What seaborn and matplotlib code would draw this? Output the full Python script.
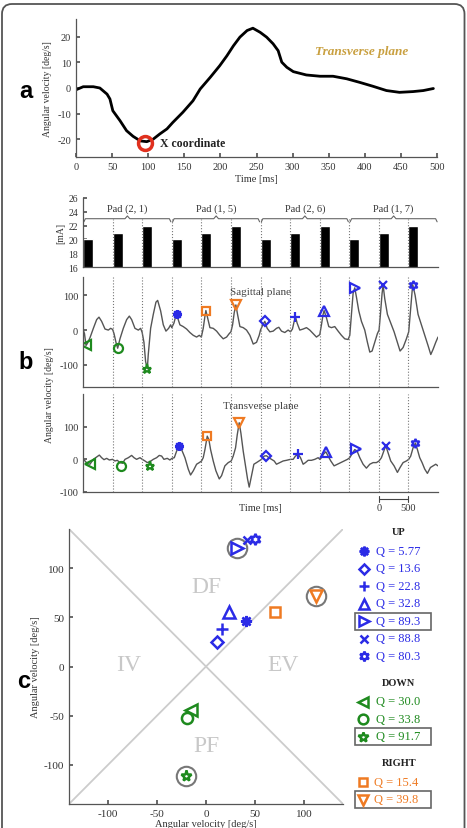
import numpy as np
import matplotlib
matplotlib.use("Agg")
import matplotlib.pyplot as plt
import matplotlib.transforms as mtransforms
from matplotlib.patches import FancyBboxPatch, Rectangle
import seaborn as sns

# ---------------- data ----------------
# panel a: single response, transverse plane
time_a = [0, 10, 24, 33, 43, 47, 51, 61, 70, 79, 89, 98, 107, 116, 126, 134, 148, 162, 172, 186,
          199, 209, 218, 227, 237, 245, 255, 264, 273, 280, 285, 292, 301, 319, 338, 356, 375, 393,
          411, 430, 448, 467, 481, 495]
vel_a = [-0.7, 0.5, 0.5, 0, -2.4, -4.3, -8.9, -12.8, -16.7, -18.9, -20.7, -21, -20, -18, -16, -13.5,
         -9.5, -5, -0.4, 4.2, 8.7, 12.6, 16.5, 19.9, 22.5, 23.4, 21.8, 19.9, 17.3, 14.6, 10.1, 8.1,
         6.4, 5.1, 4.6, 4.6, 3.6, 2.2, 0.7, -1, -1.7, -1.4, -1, -0.2]
xcoord_time = 96
xcoord_vel = -21.4

# panel b: stimulation currents
pads = ["Pad (2, 1)", "Pad (1, 5)", "Pad (2, 6)", "Pad (1, 7)"]
current_mA = [20, 21, 22, 20, 21, 22, 20, 21, 22, 20, 21, 22]
segment_ms = 500

sag_time = [0, 25, 51, 75, 118, 175, 231, 270, 315, 372, 428, 467, 500,
            524, 557, 586, 625, 681, 738, 783, 822, 878, 935, 974, 1000,
            1030, 1058, 1087, 1103, 1143, 1188, 1233, 1262, 1312, 1357, 1402, 1447, 1481, 1500,
            1537, 1560, 1582, 1600, 1638, 1694, 1751, 1807, 1863, 1920, 1965, 2000,
            2032, 2061, 2077, 2106, 2145, 2201, 2258, 2314, 2370, 2427, 2472, 2500,
            2528, 2556, 2584, 2612, 2652, 2708, 2764, 2821, 2877, 2933, 2978,
            3000, 3045, 3073, 3113, 3158, 3214, 3270, 3310, 3355, 3411, 3467, 3507,
            3540, 3569, 3591, 3619, 3664, 3721, 3777, 3833, 3890, 3946, 4002,
            4030, 4058, 4075, 4115, 4154, 4199, 4255, 4312, 4368, 4424, 4481, 4509,
            4537, 4565, 4593, 4621, 4661, 4706, 4762, 4807, 4847, 4886, 4931, 4976, 5004,
            5027, 5055, 5072, 5100, 5145, 5201, 5258, 5314, 5359, 5410, 5466, 5505,
            5534, 5562, 5573, 5613, 5663, 5720, 5776, 5833, 5878, 5917, 5962, 6000]
sag_vel = [2, -10, -44, -38, -22, 5, 30, 37, 25, 3, 0, 5, 2,
           -10, -35, -52, -25, 5, 30, 40, 30, 5, 0, 5, -7,
           -35, -90, -111, -70, 5, 45, 80, 85, 55, 15, -3, 5, 15, 7,
           20, 35, 46, 35, 15, 10, 3, -7, -15, -20, -15, -20,
           5, 40, 56, 35, 7, 5, -3, -15, -25, -20, -10, -5,
           15, 50, 72, 45, 10, 7, 0, -15, -40, -35, -15,
           0, 17, 25, 5, -5, -3, 5, 8, -3, -7, 0, -5,
           3, 25, 38, 20, 0, 3, 7, 0, -10, -20, -13,
           15, 45, 56, 35, 10, 7, 10, -3, -15, -25, -27, -15,
           45, 105, 121, 95, 55, 25, 0, -35, -63, -60, -35, -10, 0,
           45, 105, 129, 90, 45, 20, -5, -35, -60, -50, -25, -5,
           55, 110, 130, 100, 45, 15, -15, -45, -70, -55, -35, -20]

tra_time = [0, 34, 73, 118, 175, 231, 276, 315, 355, 400, 445, 500,
            540, 580, 625, 670, 710, 766, 822, 862, 906, 963, 1002,
            1047, 1087, 1132, 1188, 1244, 1289, 1329, 1368, 1424, 1469, 1503,
            1543, 1582, 1627, 1666, 1723, 1779, 1818, 1864, 1920, 1965, 2004,
            2032, 2061, 2100, 2128, 2156, 2201, 2246, 2303, 2342, 2398, 2455, 2505,
            2539, 2578, 2607, 2640, 2669, 2708, 2747, 2781, 2809, 2849, 2888, 2933,
            3017, 3062, 3101, 3141, 3186, 3231, 3270, 3327, 3383, 3439, 3507,
            3552, 3591, 3636, 3676, 3721, 3760, 3805, 3861, 3918, 3974, 4002,
            4030, 4070, 4104, 4143, 4188, 4244, 4301, 4357, 4413, 4470, 4509,
            4548, 4593, 4633, 4678, 4734, 4790, 4847, 4903, 4959, 5004,
            5044, 5083, 5117, 5157, 5201, 5258, 5314, 5359, 5410, 5466, 5505,
            5539, 5578, 5618, 5652, 5691, 5731, 5776, 5821, 5872, 5917, 5962, 6000]
tra_vel = [0, -5, -13, -15, 0, 7, 13, 5, -1, 3, -2, 0,
           -5, -3, -10, -12, 0, 5, 12, 5, 0, 5, 0,
           -5, -10, -7, 0, 5, 12, 10, 0, 3, -2, 3,
           5, 25, 41, 30, 5, -30, -48, -35, -15, -10, -5,
           5, 30, 71, 60, 30, -5, -35, -60, -50, -20, -10, -5,
           10, 35, 75, 112, 80, 25, -20, -60, -85, -50, -15, -10,
           0, 10, 11, 5, 0, -5, -15, -10, -5, -3, 0,
           0, 10, 16, 5, -15, -10, -3, -3, 0, 5, 0,
           5, 17, 23, 10, -5, -20, -15, -10, -5, 0, 5,
           17, 30, 25, 5, -15, -27, -15, -10, -10, -5,
           5, 25, 42, 20, -5, -20, -40, -25, -10, -5, 0,
           10, 35, 50, 30, 5, -10, -30, -43, -25, -20, -15, -20]

# stimuli: group, quality Q, X-coordinate values (transverse = x, sagittal = y)
stim_group = ["UP"] * 7 + ["DOWN"] * 3 + ["RIGHT"] * 2
stim_q = ["5.77", "13.6", "22.8", "32.8", "89.3", "88.8", "80.3", "30.0", "33.8", "91.7", "15.4", "39.8"]
stim_trans = [41, 11, 16, 23, 32, 42, 50, -15, -19, -20, 71, 112]
stim_sag = [46, 25, 38, 56, 121, 129, 130, -44, -52, -111, 56, 72]
stim_best = [False, False, False, False, True, False, False, False, False, True, False, True]
stim_time_sag = [1582, 3073, 3591, 4075, 4593, 5072, 5573, 51, 586, 1087, 2077, 2584]
stim_time_tra = [1627, 3101, 3636, 4104, 4615, 5117, 5618, 118, 636, 1132, 2100, 2640]
quadrants = ["DF", "IV", "EV", "PF"]

# ---------------- style ----------------
stim_marker = [(8, 2, 0), "D", "+", "^", ">", "x", (6, 1, 0), "<", "o", "*", "s", "v"]
marker_scale = [1.0, 0.78, 1.05, 1.0, 1.0, 0.8, 1.0, 1.0, 1.0, 1.0, 0.9, 1.0]
group_color = {"UP": "#2b2be6", "DOWN": "#1e8a1e", "RIGHT": "#ef7a22"}
marker_fill = ["full", "none", "full", "none", "none", "full", "none", "none", "none", "none", "none", "none"]

sns.set_theme(style="ticks")
plt.rcParams["font.family"] = ["Liberation Serif", "DejaVu Serif"]
plt.rcParams.update({
    "xtick.direction": "in", "ytick.direction": "in",
    "axes.edgecolor": "#555555", "axes.linewidth": 0.9,
    "xtick.color": "#555555", "ytick.color": "#555555",
    "xtick.labelcolor": "#333333", "ytick.labelcolor": "#333333",
    "axes.labelcolor": "#333333", "axes.unicode_minus": False,
    "xtick.major.size": 3, "ytick.major.size": 3,
})

W, H = 467, 829
fig = plt.figure(figsize=(W / 100, H / 100), dpi=100)


def rect(x0, y0, x1, y1):
    return [x0 / W, 1 - y1 / H, (x1 - x0) / W, (y1 - y0) / H]


def draw_marker(ax, x, y, i, ms=7.5, mew=1.8, **kw):
    c = group_color[stim_group[i]]
    m = stim_marker[i]
    fc = "none" if marker_fill[i] == "none" else c
    ax.plot([x], [y], linestyle="none", marker=m, ms=ms * marker_scale[i], mew=mew, mec=c,
            mfc=fc, **kw)


# ---------------- panel a ----------------
axa = fig.add_axes(rect(76, 20, 437, 158))
sns.lineplot(x=time_a, y=vel_a, color="black", lw=2, ax=axa)
axa.plot([xcoord_time], [xcoord_vel], "o", mfc="none", mec="#e0301e", ms=10, mew=2.5)
axa.text(xcoord_time + 20, xcoord_vel, "X coordinate", fontsize=8.5, fontweight="bold",
         va="center", color="#222222")
axa.text(395, 14.5, "Transverse plane", fontsize=9.5, fontweight="bold", style="italic",
         color="#c9a040", ha="center", va="center")
axa.set_xlim(0, 500)
axa.set_ylim(-27, 27)
axa.set_xticks(np.arange(0, 501, 50))
axa.set_yticks([-20, -10, 0, 10, 20])
axa.tick_params(labelsize=7.5)
axa.set_xlabel("Time [ms]", fontsize=7.5, labelpad=2)
axa.set_ylabel("Angular velocity [deg/s]", fontsize=7, labelpad=4)
sns.despine(ax=axa)

# ---------------- panel b: bars ----------------
n_stim = len(current_mA)
bar_start = np.arange(n_stim) * segment_ms
axb = fig.add_axes(rect(83, 199, 438, 268))
axb.bar(bar_start, current_mA, width=0.34 * segment_ms, align="edge", color="black")
axb.set_xlim(0, n_stim * segment_ms)
axb.set_ylim(16, 26)
axb.set_yticks(np.arange(16, 27, 2))
axb.set_xticks([])
axb.tick_params(labelsize=7)
axb.set_ylabel("[mA]", fontsize=7, labelpad=2)
sns.despine(ax=axb)
brace_y = 23
for k in range(1, n_stim):
    axb.axvline(k * segment_ms, ymin=0, ymax=(brace_y - 16) / 10, ls=":", color="#777777", lw=0.8)
group_len = 3 * segment_ms
for g, name in enumerate(pads):
    x0, x1 = g * group_len + 15, (g + 1) * group_len - 15
    xm = (x0 + x1) / 2
    bx = [x0, x0 + 25, xm - 40, xm, xm + 40, x1 - 25, x1]
    by = [brace_y - 0.45, brace_y, brace_y, brace_y + 0.4, brace_y, brace_y, brace_y - 0.45]
    axb.plot(bx, by, color="#666666", lw=0.8)
    axb.text(xm, brace_y + 1.5, name, ha="center", va="center", fontsize=7.5, color="#333333")

# ---------------- panel b: sagittal ----------------
axs = fig.add_axes(rect(83, 278, 438, 388))
sns.lineplot(x=sag_time, y=sag_vel, color="#555555", lw=1, ax=axs)
for k in range(1, n_stim):
    axs.axvline(k * segment_ms, ls=":", color="#777777", lw=0.8)
for i in range(n_stim):
    draw_marker(axs, stim_time_sag[i], stim_sag[i], i, ms=6.5, mew=1.6)
axs.text(3000, 111, "Sagittal plane", ha="center", va="center", fontsize=8, color="#444444")
axs.set_xlim(0, n_stim * segment_ms)
axs.set_ylim(-163, 152)
axs.set_yticks([-100, 0, 100])
axs.set_xticks([])
axs.tick_params(labelsize=7.5)
sns.despine(ax=axs)

# ---------------- panel b: transverse ----------------
axt = fig.add_axes(rect(83, 395, 438, 493))
sns.lineplot(x=tra_time, y=tra_vel, color="#555555", lw=1, ax=axt)
for k in range(1, n_stim):
    axt.axvline(k * segment_ms, ls=":", color="#777777", lw=0.8)
for i in range(n_stim):
    draw_marker(axt, stim_time_tra[i], stim_trans[i], i, ms=6.5, mew=1.6)
axt.text(3000, 166, "Transverse plane", ha="center", va="center", fontsize=8, color="#444444")
axt.set_xlim(0, n_stim * segment_ms)
axt.set_ylim(-100, 200)
axt.set_yticks([-100, 0, 100])
axt.set_xticks([])
axt.tick_params(labelsize=7.5)
sns.despine(ax=axt)
tr = mtransforms.blended_transform_factory(axt.transData, axt.transAxes)
sb0, sb1 = (n_stim - 2) * segment_ms, (n_stim - 1) * segment_ms
axt.plot([sb0, sb1], [-0.071, -0.071], transform=tr, clip_on=False, color="#444444", lw=0.8)
for xx in (sb0, sb1):
    axt.plot([xx, xx], [-0.10, -0.04], transform=tr, clip_on=False, color="#444444", lw=0.8)
axt.text(sb0, -0.155, "0", transform=tr, ha="center", va="center", fontsize=7.5, color="#333333")
axt.text(sb1, -0.155, "500", transform=tr, ha="center", va="center", fontsize=7.5, color="#333333")
axt.text(3000, -0.155, "Time [ms]", transform=tr, ha="center", va="center", fontsize=7.5,
         color="#333333")
fig.text(50 / W, 1 - 395 / H, "Angular velocity [deg/s]", rotation=90, ha="center", va="center",
         fontsize=7, color="#333333")

# ---------------- panel c ----------------
axc = fig.add_axes(rect(69, 530, 343, 805))
lim = 140
axc.plot([-lim, lim], [lim, -lim], color="#cccccc", lw=1.3)
axc.plot([-lim, lim], [-lim, lim], color="#cccccc", lw=1.3)
quad_pos = {"DF": (0, 81), "IV": (-79, 2), "EV": (79, 2), "PF": (0, -80)}
for q in quadrants:
    axc.text(*quad_pos[q], q, ha="center", va="center", fontsize=17, color="#c8c8c8")
for i in range(n_stim):
    if stim_best[i]:
        axc.plot([stim_trans[i]], [stim_sag[i]], "o", mfc="none", mec="#777777", ms=14, mew=1.5)
    draw_marker(axc, stim_trans[i], stim_sag[i], i, ms=8, mew=1.8)
axc.set_xlim(-lim, lim)
axc.set_ylim(-lim, lim)
axc.set_xticks([-100, -50, 0, 50, 100])
axc.set_yticks([-100, -50, 0, 50, 100])
axc.tick_params(labelsize=8)
axc.set_xlabel("Angular velocity [deg/s]", fontsize=7.5, labelpad=1)
axc.set_ylabel("Angular velocity [deg/s]", fontsize=7.5, labelpad=3)
sns.despine(ax=axc)

# ---------------- legend for panel c ----------------
axl = fig.add_axes(rect(350, 520, 440, 820))
axl.set_xlim(350, 440)
axl.set_ylim(820, 520)
axl.axis("off")
y = 533
prev = None
for i in range(n_stim):
    grp = stim_group[i]
    if grp != prev:
        if prev is not None:
            y += 9
        axl.text(399, y, grp, ha="center", va="center", fontsize=7.5, fontweight="bold",
                 color="#222222")
        y += 19
        prev = grp
    c = group_color[grp]
    mx = 364 if grp == "UP" else 363
    tx = 376 if grp != "RIGHT" else 374
    draw_marker(axl, mx, y, i, ms=7, mew=1.8, clip_on=False)
    axl.text(tx, y, f"Q = {stim_q[i]}", ha="left", va="center", fontsize=9, color=c)
    if stim_best[i]:
        axl.add_patch(Rectangle((355, y - 8.5), 76, 17, fill=False, ec="#666666", lw=1.2,
                                clip_on=False))
    y += 17.5

# ---------------- panel letters & frame ----------------
for lab, (px, py) in {"a": (26, 92), "b": (26, 363), "c": (24, 682)}.items():
    fig.text(px / W, 1 - py / H, lab, family="Liberation Sans", fontweight="bold", fontsize=17,
             ha="center", va="center", color="black")

frame = FancyBboxPatch((0.02, -0.5), W / 100 - 0.045, H / 100 - 0.05 + 0.5,
                       boxstyle="round,pad=0,rounding_size=0.1", transform=fig.dpi_scale_trans,
                       fill=False, ec="#555555", lw=1.3)
fig.add_artist(frame)

fig.savefig("out.png", dpi=100)
